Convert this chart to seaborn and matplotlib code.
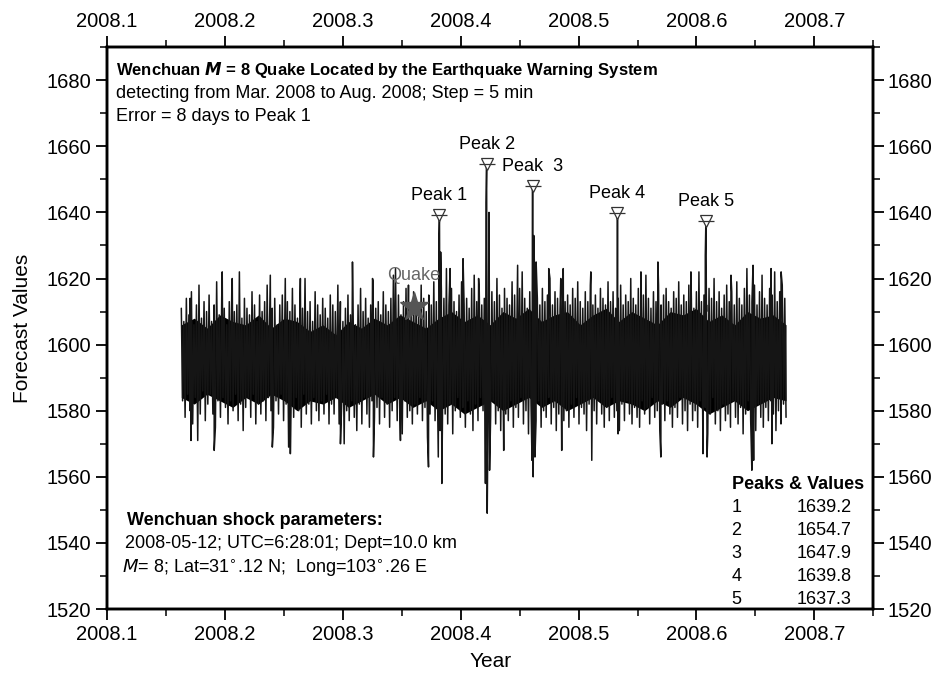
import numpy as np
import pandas as pd
import matplotlib.pyplot as plt
import seaborn as sns
from matplotlib.ticker import MultipleLocator

# Series: alternating upper / lower envelope of the noisy band
t_start, t_end = 2008.163, 2008.676

band_upper = [
    1611, 1607, 1614, 1609, 1616, 1606, 1612, 1618, 1608, 1613, 1610, 1615, 1607, 1612, 1619, 1609, 1614, 1611, 1606, 1613,
    1617, 1610, 1612, 1622, 1608, 1614, 1611, 1609, 1616, 1612, 1607, 1615, 1610, 1613, 1618, 1609, 1611, 1614, 1606, 1612,
    1615, 1609, 1613, 1610, 1617, 1612, 1608, 1614, 1611, 1620, 1610, 1613, 1607, 1616, 1612, 1609, 1614, 1611, 1608, 1615,
    1612, 1610, 1618, 1613, 1607, 1611, 1615, 1609, 1613, 1606, 1612, 1617, 1610, 1614, 1608, 1612, 1619, 1611, 1613, 1609,
    1616, 1612, 1610, 1614, 1621, 1611, 1615, 1609, 1613, 1617, 1612, 1610, 1616, 1613, 1611, 1618, 1614, 1610, 1615, 1612,
    1619, 1613, 1611, 1616, 1614, 1623, 1612, 1617, 1613, 1610, 1615, 1619, 1612, 1614, 1611, 1617, 1621, 1613, 1616, 1612,
    1614, 1618, 1612, 1616, 1613, 1620, 1615, 1611, 1617, 1614, 1612, 1619, 1615, 1613, 1617, 1622, 1614, 1611, 1616, 1613,
    1618, 1614, 1612, 1617, 1613, 1615, 1620, 1612, 1616, 1614, 1611, 1618, 1613, 1615, 1612, 1617, 1614, 1619, 1613, 1611,
    1616, 1613, 1618, 1612, 1615, 1611, 1617, 1614, 1612, 1619, 1613, 1616, 1611, 1614, 1618, 1612, 1615, 1613, 1620, 1614,
    1612, 1617, 1613, 1615, 1621, 1614, 1611, 1616, 1613, 1618, 1612, 1615, 1617, 1613, 1611, 1616, 1614, 1619, 1612, 1615,
    1613, 1618, 1614, 1611, 1616, 1622, 1613, 1615, 1612, 1617, 1614, 1620, 1613, 1616, 1611, 1615, 1618, 1613, 1616, 1612,
    1619, 1614, 1612, 1617, 1623, 1615, 1613, 1618, 1612, 1616, 1621, 1614, 1612, 1617, 1615, 1622, 1613, 1616, 1618, 1614,
]
band_lower = [
    1583, 1578, 1585, 1580, 1576, 1584, 1571, 1579, 1586, 1577, 1582, 1585, 1579, 1575, 1583, 1578, 1584, 1581, 1576, 1583,
    1580, 1585, 1577, 1582, 1574, 1581, 1584, 1578, 1585, 1576, 1582, 1579, 1583, 1577, 1584, 1580, 1575, 1583, 1579, 1585,
    1577, 1582, 1569, 1583, 1578, 1584, 1580, 1575, 1585, 1579, 1582, 1576, 1584, 1580, 1577, 1583, 1579, 1585, 1576, 1582,
    1579, 1584, 1576, 1582, 1570, 1580, 1577, 1583, 1578, 1574, 1582, 1576, 1584, 1579, 1575, 1583, 1578, 1581, 1576, 1584,
    1578, 1582, 1575, 1580, 1584, 1577, 1581, 1573, 1583, 1578, 1580, 1576, 1582, 1579, 1584, 1577, 1581, 1572, 1579, 1583,
    1577, 1581, 1574, 1583, 1579, 1576, 1582, 1573, 1580, 1584, 1578, 1581, 1575, 1583, 1579, 1574, 1582, 1577, 1584, 1580,
    1575, 1581, 1578, 1583, 1576, 1580, 1574, 1582, 1579, 1577, 1583, 1575, 1581, 1578, 1584, 1576, 1580, 1573, 1582, 1579,
    1577, 1583, 1575, 1580, 1578, 1584, 1576, 1581, 1574, 1579, 1583, 1577, 1580, 1575, 1582, 1578, 1584, 1576, 1581, 1579,
    1574, 1582, 1578, 1580, 1576, 1583, 1579, 1575, 1581, 1577, 1584, 1578, 1580, 1574, 1582, 1577, 1583, 1579, 1576, 1581,
    1578, 1575, 1583, 1579, 1581, 1576, 1584, 1578, 1580, 1574, 1582, 1577, 1583, 1579, 1575, 1581, 1578, 1584, 1576, 1580,
    1574, 1582, 1577, 1580, 1575, 1583, 1578, 1581, 1573, 1579, 1584, 1576, 1580, 1574, 1582, 1577, 1579, 1575, 1583, 1578,
    1576, 1581, 1573, 1579, 1583, 1577, 1580, 1574, 1582, 1578, 1575, 1581, 1577, 1583, 1579, 1574, 1580, 1576, 1582, 1578,
]

# solid core of the band (irregular edges), evenly spaced over the same span
core_top = [1606, 1608, 1605, 1609, 1607, 1606, 1609, 1605, 1608, 1607, 1604, 1606,
            1603, 1607, 1605, 1608, 1606, 1609, 1607, 1605, 1608, 1610, 1607, 1609,
            1606, 1610, 1608, 1611, 1607, 1609, 1610, 1606, 1609, 1611, 1607, 1610,
            1608, 1606, 1610, 1609, 1611, 1607, 1609, 1606, 1610, 1608, 1609, 1606]
core_bottom = [1584, 1582, 1585, 1583, 1581, 1584, 1582, 1585, 1583, 1580, 1583, 1582,
               1584, 1581, 1583, 1585, 1582, 1584, 1581, 1583, 1580, 1582, 1579, 1581,
               1583, 1580, 1582, 1584, 1581, 1583, 1580, 1582, 1584, 1581, 1583, 1582,
               1580, 1583, 1581, 1584, 1582, 1579, 1581, 1583, 1580, 1582, 1584, 1583]

# Isolated spikes (time, value)
spike_t = [2008.1705, 2008.1712, 2008.1909, 2008.1977, 2008.2062, 2008.2385, 2008.2402,
           2008.2512, 2008.2555, 2008.2640, 2008.2980, 2008.3082, 2008.3252, 2008.3260,
           2008.3447, 2008.3489, 2008.3557, 2008.3727,
           2008.381, 2008.3815, 2008.382, 2008.383, 2008.384, 2008.391, 2008.402,
           2008.4152, 2008.421, 2008.4215, 2008.422, 2008.4225, 2008.424, 2008.4245,
           2008.4365, 2008.4483,
           2008.4605, 2008.461, 2008.4615, 2008.462, 2008.463, 2008.464,
           2008.4747, 2008.4849, 2008.4857, 2008.487, 2008.5104, 2008.5112,
           2008.533, 2008.5335, 2008.5529, 2008.5673, 2008.5698, 2008.5953,
           2008.6055, 2008.6075, 2008.608, 2008.6085, 2008.609, 2008.6293,
           2008.647, 2008.6480, 2008.6485, 2008.6633, 2008.6640, 2008.6718]
spike_v = [1614, 1571, 1568, 1622, 1620, 1621, 1569,
           1620, 1567, 1620, 1570, 1625, 1620, 1566,
           1623, 1571, 1618, 1563,
           1566, 1632, 1639.2, 1628, 1558, 1623, 1626,
           1620, 1558, 1643, 1654.7, 1549, 1640, 1562,
           1568, 1624,
           1565, 1647.9, 1560, 1633, 1566, 1625,
           1623, 1620, 1568, 1623, 1622, 1565,
           1639.8, 1573, 1622, 1625, 1566, 1622,
           1567, 1627, 1637.3, 1610, 1566, 1621,
           1562, 1624, 1565, 1623, 1570, 1622]

peak_ids = ["1", "2", "3", "4", "5"]
peak_labels = ["Peak 1", "Peak 2", "Peak  3", "Peak 4", "Peak 5"]
peak_times = [2008.382, 2008.422, 2008.461, 2008.533, 2008.608]
peak_values = [1639.2, 1654.7, 1647.9, 1639.8, 1637.3]

quake_time = 2008.360
quake_value = 1611.5

x_ticks = [2008.1, 2008.2, 2008.3, 2008.4, 2008.5, 2008.6, 2008.7]
y_ticks = [1520, 1540, 1560, 1580, 1600, 1620, 1640, 1660, 1680]

# build the series
n = len(band_upper)
t_band = np.linspace(t_start, t_end, 2 * n)
v_band = np.empty(2 * n)
v_band[0::2] = band_upper
v_band[1::2] = band_lower
df = pd.DataFrame({"Year": np.concatenate([t_band, spike_t]),
                   "Value": np.concatenate([v_band, spike_v])})
df = df.sort_values("Year").reset_index(drop=True)
core_t = np.linspace(t_start, t_end, len(core_top))

sns.set_style("ticks")
plt.rcParams['font.family'] = ['Liberation Sans', 'DejaVu Sans']
for k in ("text.color", "axes.labelcolor", "xtick.color", "ytick.color"):
    plt.rcParams[k] = "black"

fig, ax = plt.subplots(figsize=(9.39, 6.73), dpi=100)
fig.subplots_adjust(left=0.114, right=0.930, bottom=0.095, top=0.930)

ax.fill_between(core_t, core_bottom, core_top, color="black", lw=0)
sns.lineplot(data=df, x="Year", y="Value", ax=ax, color="#151515", lw=1.1,
             estimator=None, sort=False)

ax.set_xlim(2008.1, 2008.75)
ax.set_ylim(1520, 1690)

# peak markers and labels
ax.plot(peak_times, peak_values, linestyle="none", marker="v", ms=9,
        mfc="white", mec="#333333", mew=0.9, zorder=4)
ax.plot(peak_times, peak_values, linestyle="none", marker="_", ms=12,
        mec="#333333", mew=0.9, zorder=5)
for t, v, lab in zip(peak_times, peak_values, peak_labels):
    ax.annotate(lab, (t, v), xytext=(0, 8), textcoords="offset points",
                ha="center", va="bottom", fontsize=13)

# quake marker
ax.plot([quake_time], [quake_value], marker="*", ms=21, color="#555555",
        mec="#555555", linestyle="none", zorder=6)
ax.annotate("Quake", (quake_time, quake_value), xytext=(0, 16),
            textcoords="offset points", ha="center", va="bottom",
            fontsize=13, color="#666666", zorder=6)

# text blocks
ax.text(0.012, 0.959, r"Wenchuan $\boldsymbol{M}$ = 8 Quake Located by the Earthquake Warning System",
        transform=ax.transAxes, fontsize=12, fontweight="bold", va="center")
ax.text(0.012, 0.918, "detecting from Mar. 2008 to Aug. 2008; Step = 5 min",
        transform=ax.transAxes, fontsize=13, va="center")
ax.text(0.012, 0.877, "Error = 8 days to Peak 1",
        transform=ax.transAxes, fontsize=13, va="center")

ax.text(0.026, 0.157, "Wenchuan shock parameters:", transform=ax.transAxes,
        fontsize=13, fontweight="bold", va="center")
ax.text(0.024, 0.117, "2008-05-12; UTC=6:28:01; Dept=10.0 km",
        transform=ax.transAxes, fontsize=13, va="center")
ax.text(0.020, 0.073, r"$\it{M}$= 8; Lat=31$^{\circ}$.12 N;  Long=103$^{\circ}$.26 E",
        transform=ax.transAxes, fontsize=13, va="center")

ax.text(0.815, 0.222, "Peaks & Values", transform=ax.transAxes,
        fontsize=13, fontweight="bold", va="center")
for i, (pid, pv) in enumerate(zip(peak_ids, peak_values)):
    yy = 0.181 - i * 0.041
    ax.text(0.815, yy, pid, transform=ax.transAxes, fontsize=13, va="center")
    ax.text(0.972, yy, f"{pv:.1f}", transform=ax.transAxes, fontsize=13,
            va="center", ha="right")

# axes, ticks and labels
ax.set_xticks(x_ticks)
ax.set_xticklabels([f"{x:.1f}" for x in x_ticks])
ax.set_yticks(y_ticks)
ax.xaxis.set_minor_locator(MultipleLocator(0.05))
ax.yaxis.set_minor_locator(MultipleLocator(10))
ax.set_xlabel("Year", fontsize=15, labelpad=6)
ax.set_ylabel("Forecast Values", fontsize=15, labelpad=10)

top = ax.twiny()
right = ax.twinx()
top.set_xlim(ax.get_xlim())
top.set_xticks(x_ticks)
top.set_xticklabels([f"{x:.1f}" for x in x_ticks])
top.xaxis.set_minor_locator(MultipleLocator(0.05))
right.set_ylim(ax.get_ylim())
right.set_yticks(y_ticks)
right.yaxis.set_minor_locator(MultipleLocator(10))

for a in (ax, top, right):
    a.tick_params(which="major", direction="out", length=8, width=1.3,
                  labelsize=14.5, colors="black")
    a.tick_params(which="minor", direction="out", length=5, width=1.1)
    for s in a.spines.values():
        s.set_visible(True)
        s.set_linewidth(1.7)
        s.set_color("black")
right.tick_params(which="major", pad=2)

plt.savefig("out.png", dpi=100)
plt.close()
